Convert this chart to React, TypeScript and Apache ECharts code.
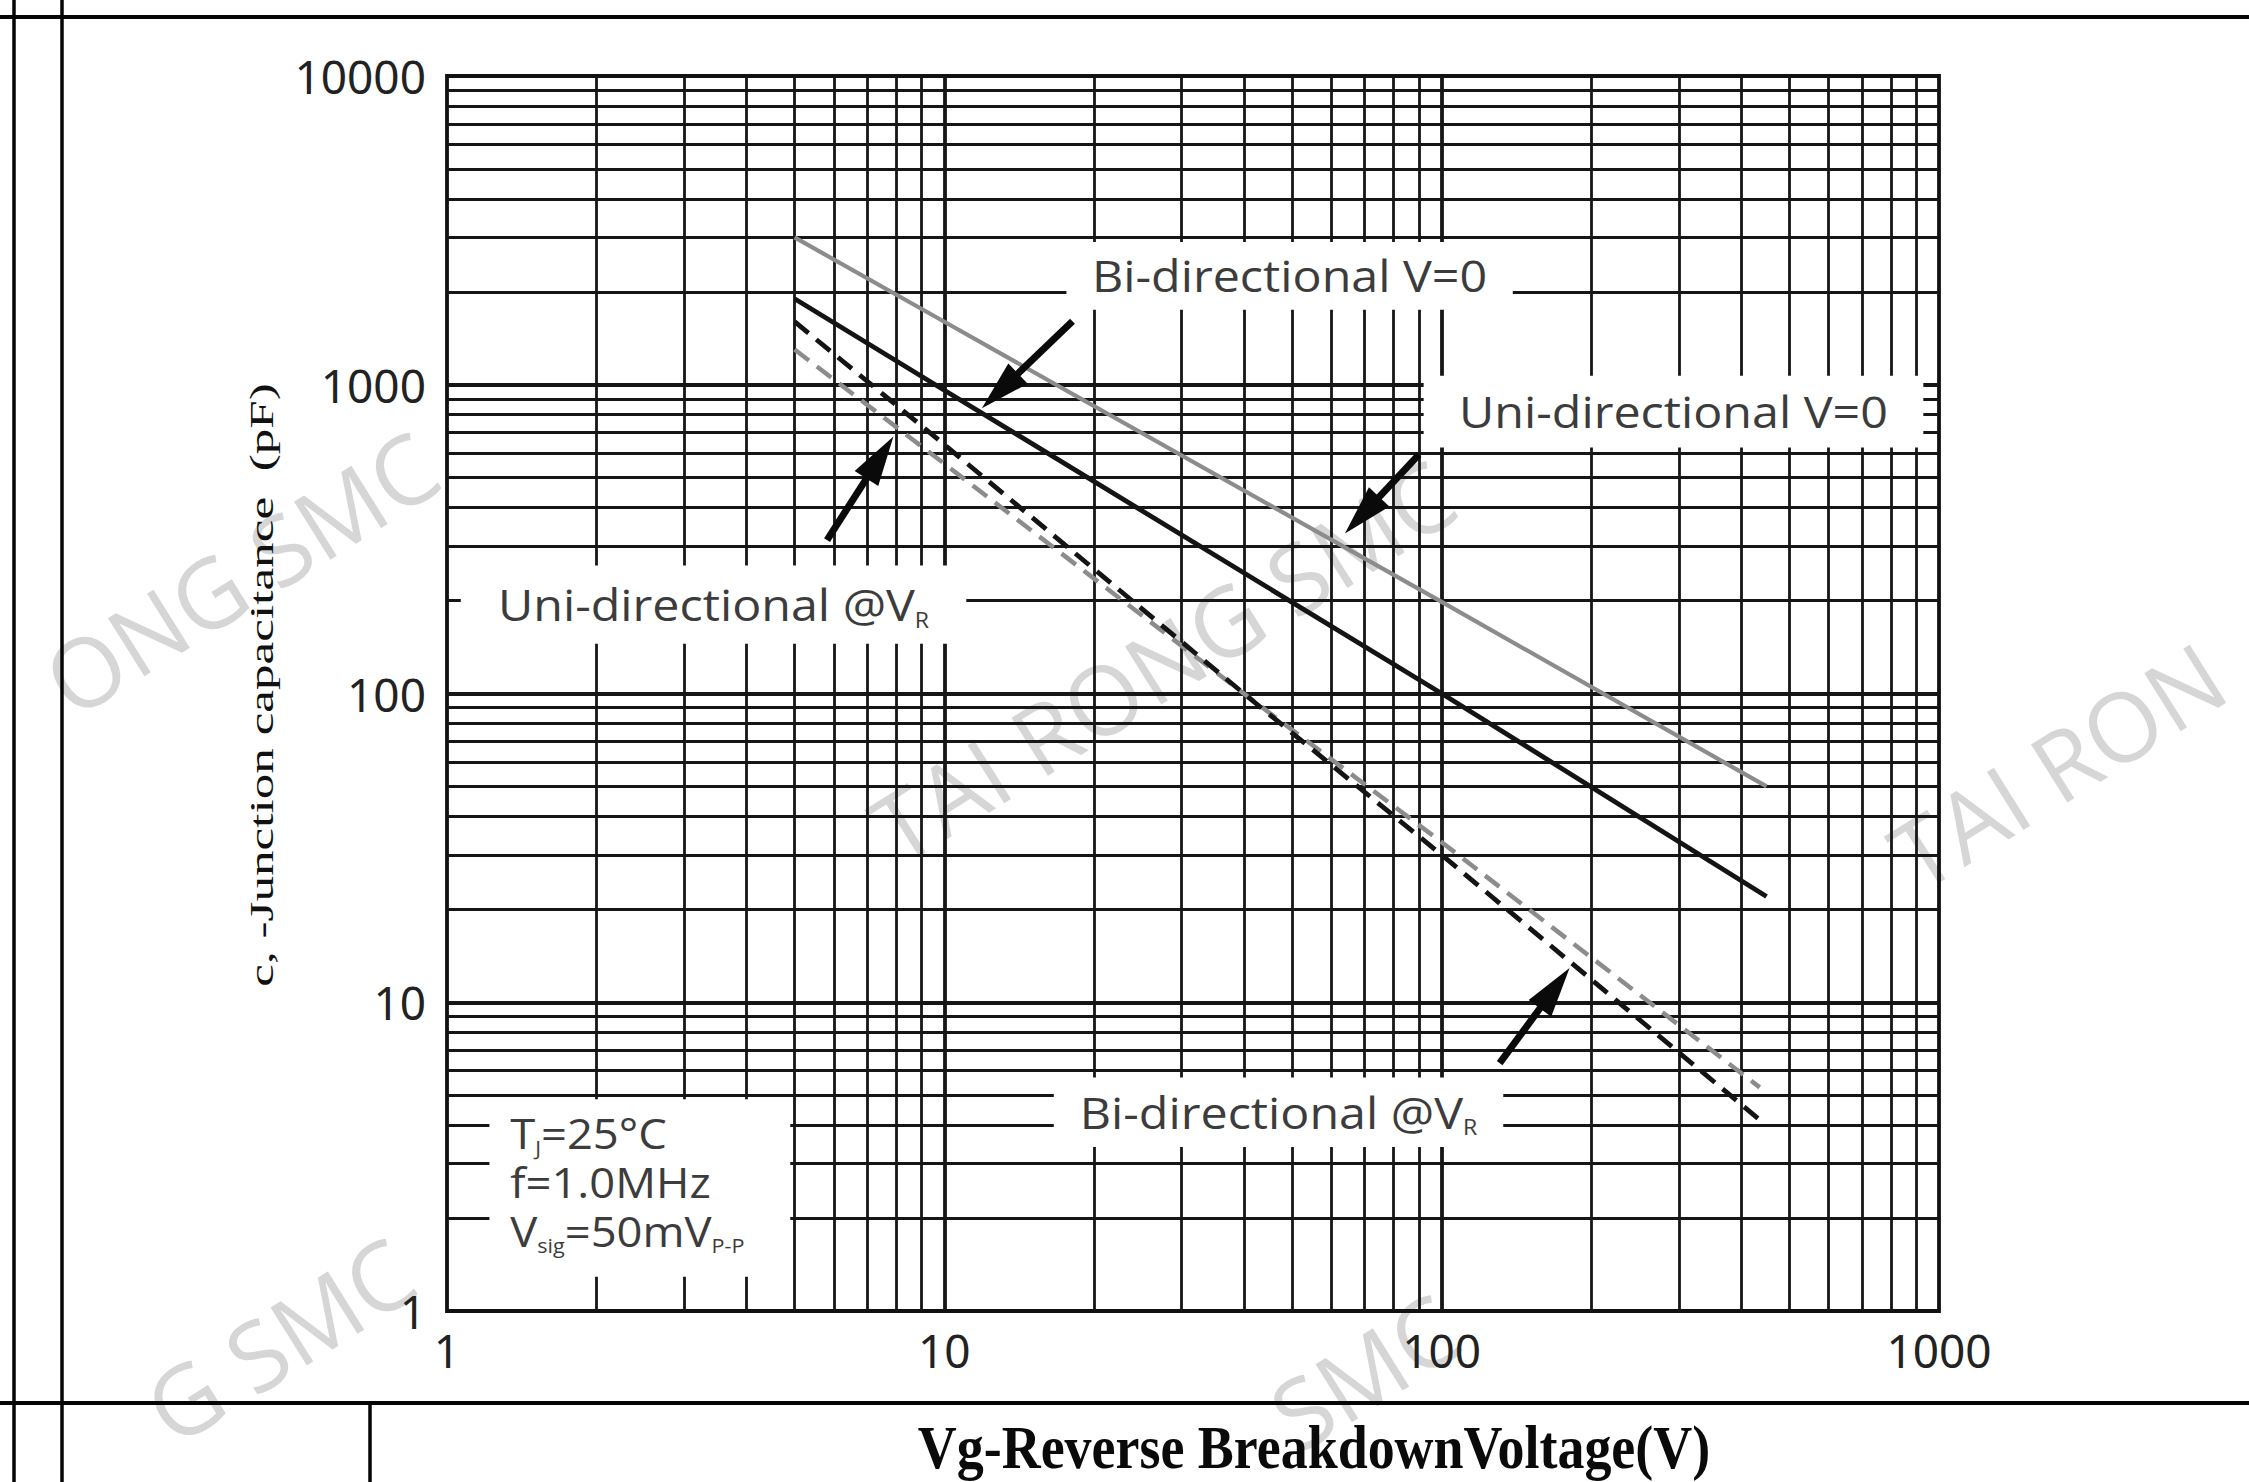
import React, { useEffect, useRef } from "react";
import * as echarts from "echarts";

// ---------------- data ----------------
const xLabelValues = [1, 10, 100, 1000];
const yLabelValues = [1, 10, 100, 1000, 10000];
const xGridMinor = [2, 3, 4, 5, 6, 7, 8, 9, 20, 30, 40, 50, 60, 70, 80, 90, 200, 300, 400, 500, 600, 700, 800, 900];
const xGridMajor = [10, 100];
const yGridMinor = [
  2, 3, 4, 5, 6, 7, 8, 9,
  20, 30, 40, 50, 60, 70, 80, 90,
  200, 300, 400, 500, 600, 700, 800, 900,
  2000, 3000, 4000, 5000, 6000, 7000, 8000, 9000,
];
const yGridMajor = [10, 100, 1000];

// Uni-directional V=0 (grey solid)
const uniV0Voltage = [5, 10, 100, 450];
const uniV0Cap = [3000, 1600, 198, 50];
// Bi-directional V=0 (black solid)
const biV0Voltage = [5, 10, 100, 450];
const biV0Cap = [1900, 960, 100, 22];
// Bi-directional @VR (black dashed)
const biVRVoltage = [5, 10, 40, 100, 433];
const biVRCap = [1600, 640, 100, 30, 4.2];
// Uni-directional @VR (grey dashed)
const uniVRVoltage = [5, 10, 40, 100, 436];
const uniVRCap = [1300, 555, 100, 33, 5.3];

// label boxes in data units: [xLeft, xRight, yTop, yBottom]
const boxBiV0 = [17.6, 139, 2900, 1750];
const boxUniV0 = [92, 930, 1069, 626];
const boxUniVR = [1.066, 11.07, 260, 145];
const boxBiVR = [16.6, 133, 5.7, 3.4];
const boxConditions = [1.217, 4.9, 4.85, 1.29];
const conditionsAnchor = [1.34, 2.62];

// arrows in data units: tail -> tip
const arrowBiV0 = { tail: [18.1, 1605], tip: [11.9, 840] };
const arrowUniV0 = { tail: [90, 594], tip: [63.9, 330] };
const arrowUniVR = { tail: [5.81, 314], tip: [7.9, 680] };
const arrowBiVR = { tail: [130.8, 6.35], tip: [180.8, 12.9] };

const LABEL_FONT = "'Open Sans', 'Noto Sans', sans-serif";
const TEXT_COLOR = "#3c3c3c";

function buildGraphic(chart: any) {
  const p = (x: number, y: number) => chart.convertToPixel({ gridIndex: 0 }, [x, y]) as number[];
  const els: any[] = [];

  // watermarks (tiled "TAI RONG SMC", partially outside the page in the source)
  const ang = 0.56;
  const cs = Math.cos(ang);
  const sn = Math.sin(ang);
  const half = 338;
  const wmStyle = (text: string, align: string) => ({
    text, fill: "#d6d6d6", fontSize: 96, fontFamily: LABEL_FONT, align, verticalAlign: "middle",
  });
  const wmEl = (x: number, y: number, text: string, align: string) => ({
    type: "text", x, y, rotation: ang, z: -1, silent: true, style: wmStyle(text, align),
  });
  // full one in the middle
  els.push(wmEl(1162, 660, "TAI RONG SMC", "center"));
  // left: visible tail "ONG SMC"
  els.push(wmEl(100 + (half + 48) * cs, 660 - (half + 48) * sn, "ONG SMC", "right"));
  // right: visible head "TAI RON"
  els.push(wmEl(2224 - (half + 45) * cs, 660 + (half + 45) * sn, "TAI RON", "left"));
  // bottom-left: "G SMC"
  els.push(wmEl(100 + (half + 20) * cs, 1515 - (half + 20) * sn - 64, "G SMC", "right"));
  // bottom-middle: "SMC"
  els.push(wmEl(1162 + half * cs, 1515 - half * sn - 18, "SMC", "right"));

  // page frame
  const frame = [
    [0, 17, 2249, 17, 4],
    [14, 0, 14, 1482, 3.5],
    [62, 0, 62, 1482, 3.5],
    [0, 1403, 2249, 1403, 4],
    [370, 1403, 370, 1482, 3.5],
  ];
  frame.forEach(([x1, y1, x2, y2, w]) => {
    els.push({ type: "line", z: 50, silent: true, shape: { x1, y1, x2, y2 }, style: { stroke: "#050505", lineWidth: w } });
  });

  // white boxes
  const boxes = [boxBiV0, boxUniV0, boxUniVR, boxBiVR, boxConditions];
  const centers: number[][] = [];
  boxes.forEach((b) => {
    const a = p(b[0], b[2]);
    const c = p(b[1], b[3]);
    centers.push([(a[0] + c[0]) / 2, (a[1] + c[1]) / 2]);
    els.push({
      type: "rect", z: 20, silent: true,
      shape: { x: a[0], y: a[1], width: c[0] - a[0], height: c[1] - a[1] },
      style: { fill: "#ffffff" },
    });
  });

  const rich = {
    m: { fontSize: 44, fontFamily: LABEL_FONT, fill: TEXT_COLOR, lineHeight: 50 },
    s: { fontSize: 21, fontFamily: LABEL_FONT, fill: TEXT_COLOR, lineHeight: 24, verticalAlign: "bottom" },
  };
  const labels = [
    { c: centers[0], t: "{m|Bi-directional V=0}" },
    { c: centers[1], t: "{m|Uni-directional V=0}" },
    { c: centers[2], t: "{m|Uni-directional @V}{s|R}" },
    { c: centers[3], t: "{m|Bi-directional @V}{s|R}" },
  ];
  labels.forEach((l) => {
    els.push({
      type: "text", x: l.c[0], y: l.c[1], z: 45, silent: true, scaleX: 1.1,
      style: { text: l.t, rich, align: "center", verticalAlign: "middle" },
    });
  });

  const ca = p(conditionsAnchor[0], conditionsAnchor[1]);
  els.push({
    type: "text", x: ca[0], y: ca[1], z: 45, silent: true, scaleX: 1.08,
    style: {
      text: "{m|T}{s|J}{m|=25°C}\n{m|f=1.0MHz}\n{m|V}{s|sig}{m|=50mV}{s|P-P}",
      rich: {
        m: { fontSize: 42, fontFamily: LABEL_FONT, fill: TEXT_COLOR, lineHeight: 49 },
        s: { fontSize: 20, fontFamily: LABEL_FONT, fill: TEXT_COLOR, lineHeight: 22, verticalAlign: "bottom" },
      },
      align: "left", verticalAlign: "middle",
    },
  });

  // arrows
  [arrowBiV0, arrowUniV0, arrowUniVR, arrowBiVR].forEach((a) => {
    const t = p(a.tail[0], a.tail[1]);
    const h = p(a.tip[0], a.tip[1]);
    const dx = h[0] - t[0];
    const dy = h[1] - t[1];
    const len = Math.hypot(dx, dy);
    const ux = dx / len;
    const uy = dy / len;
    const L = 50;
    const W = 14;
    const bx = h[0] - ux * L;
    const by = h[1] - uy * L;
    els.push({
      type: "line", z: 40, silent: true,
      shape: { x1: t[0], y1: t[1], x2: bx + ux * 6, y2: by + uy * 6 },
      style: { stroke: "#0a0a0a", lineWidth: 7 },
    });
    els.push({
      type: "polygon", z: 40, silent: true,
      shape: { points: [[h[0], h[1]], [bx - uy * W, by + ux * W], [bx + uy * W, by - ux * W]] },
      style: { fill: "#0a0a0a" },
    });
  });

  // axis titles
  els.push({
    type: "text", x: 262, y: 685, rotation: Math.PI / 2, scaleX: 1.55, z: 45, silent: true,
    style: {
      text: "c, -Junction capacitance  (pF)", fill: "#111", fontSize: 33,
      fontFamily: "'Liberation Serif', 'DejaVu Serif', serif",
      align: "center", verticalAlign: "middle",
    },
  });
  els.push({
    type: "text", x: 1314, y: 1447, scaleX: 0.87, z: 45, silent: true,
    style: {
      text: "Vg-Reverse BreakdownVoltage(V)", fill: "#0a0a0a", fontSize: 62, fontWeight: "bold",
      fontFamily: "'Liberation Serif', 'DejaVu Serif', serif",
      align: "center", verticalAlign: "middle",
    },
  });

  return els;
}

export default function App() {
  const ref = useRef<HTMLDivElement>(null);

  useEffect(() => {
    document.body.style.margin = "0";
    const chart = echarts.init(ref.current as HTMLDivElement, null, { renderer: "svg" });

    const curve = (name: string, xs: number[], ys: number[], color: string, width: number, type: any) => ({
      name, type: "line", z: 30, silent: true, symbol: "none", smooth: false,
      data: xs.map((x, i) => [x, ys[i]]),
      lineStyle: { color, width, type, cap: "butt" },
    });

    const gridLineData = [
      ...xGridMinor.map((v) => ({ xAxis: v, lineStyle: { width: 2.8 } })),
      ...xGridMajor.map((v) => ({ xAxis: v, lineStyle: { width: 3.8 } })),
      ...yGridMinor.map((v) => ({ yAxis: v, lineStyle: { width: 2.8 } })),
      ...yGridMajor.map((v) => ({ yAxis: v, lineStyle: { width: 3.8 } })),
    ];

    const axisLabelStyle = {
      fontSize: 46,
      color: "#222",
      fontFamily: "'Liberation Sans Narrow', 'Noto Sans', sans-serif",
      formatter: (v: number) => String(Math.round(v)),
      showMinLabel: true,
      showMaxLabel: true,
    };

    chart.setOption({
      animation: false,
      backgroundColor: "#ffffff",
      grid: {
        left: 447, top: 76, width: 1492, height: 1235,
        show: true, borderColor: "#111", borderWidth: 3.8, backgroundColor: "transparent",
      },
      xAxis: {
        type: "log", logBase: 10, min: xLabelValues[0], max: xLabelValues[xLabelValues.length - 1],
        axisLine: { show: false }, axisTick: { show: false }, splitLine: { show: false },
        axisLabel: { ...axisLabelStyle, margin: 16 },
      },
      yAxis: {
        type: "log", logBase: 10, min: yLabelValues[0], max: yLabelValues[yLabelValues.length - 1],
        axisLine: { show: false }, axisTick: { show: false }, splitLine: { show: false },
        axisLabel: { ...axisLabelStyle, margin: 21 },
      },
      series: [
        {
          name: "grid", type: "line", z: 1, silent: true, symbol: "none",
          data: [[1, 1]],
          lineStyle: { opacity: 0 },
          markLine: {
            silent: true, z: 1, animation: false,
            symbol: ["none", "none"],
            label: { show: false },
            emphasis: { disabled: true },
            lineStyle: { color: "#161616", type: "solid" },
            data: gridLineData,
          },
        },
        curve("Uni-directional V=0", uniV0Voltage, uniV0Cap, "#8c8c8c", 4.2, "solid"),
        curve("Bi-directional V=0", biV0Voltage, biV0Cap, "#141414", 4.8, "solid"),
        curve("Uni-directional @VR", uniVRVoltage, uniVRCap, "#8c8c8c", 4.5, [18, 10]),
        curve("Bi-directional @VR", biVRVoltage, biVRCap, "#141414", 4.8, [18, 10]),
      ],
    });

    chart.setOption({ graphic: buildGraphic(chart) });

    return () => {
      chart.dispose();
    };
  }, []);

  return <div ref={ref} style={{ width: 2249, height: 1482 }} />;
}
